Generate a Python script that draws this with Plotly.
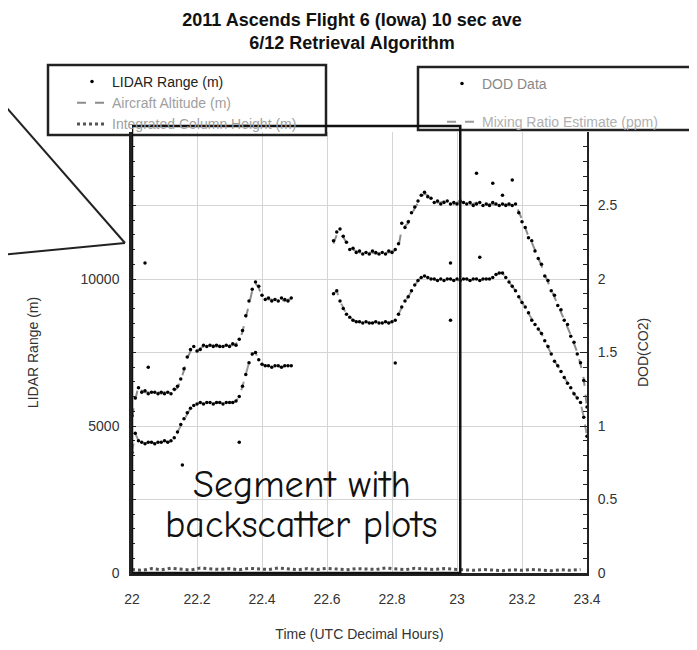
import plotly.graph_objects as go

# ---- data ----
# time stamps (UTC decimal hours), None marks the gap in the record
time_hr = [
    22.00, 22.01, 22.02, 22.03, 22.04, 22.05, 22.06, 22.07, 22.08, 22.09,
    22.10, 22.11, 22.12, 22.13, 22.14, 22.15, 22.16, 22.17, 22.18, 22.19,
    22.20, 22.21, 22.22, 22.23, 22.24, 22.25, 22.26, 22.27, 22.28, 22.29,
    22.30, 22.31, 22.32, 22.33, 22.34, 22.35, 22.36, 22.37, 22.38, 22.39,
    22.40, 22.41, 22.42, 22.43, 22.44, 22.45, 22.46, 22.47, 22.48, 22.49,
    None,
    22.62, 22.63, 22.64, 22.65, 22.66, 22.67, 22.68, 22.69, 22.70, 22.71,
    22.72, 22.73, 22.74, 22.75, 22.76, 22.77, 22.78, 22.79, 22.80, 22.81,
    22.82, 22.83, 22.84, 22.85, 22.86, 22.87, 22.88, 22.89, 22.90, 22.91,
    22.92, 22.93, 22.94, 22.95, 22.96, 22.97, 22.98, 22.99, 23.00, 23.01,
    23.02, 23.03, 23.04, 23.05, 23.06, 23.07, 23.08, 23.09, 23.10, 23.11,
    23.12, 23.13, 23.14, 23.15, 23.16, 23.17, 23.18, 23.19, 23.20, 23.21,
    23.22, 23.23, 23.24, 23.25, 23.26, 23.27, 23.28, 23.29, 23.30, 23.31,
    23.32, 23.33, 23.34, 23.35, 23.36, 23.37, 23.38, 23.39, 23.40,
]

# aircraft altitude (m)
altitude_m = [
    5300, 5900, 6350, 6200, 6150, 6150, 6100, 6150, 6150, 6100,
    6150, 6100, 6150, 6200, 6300, 6550, 6900, 7300, 7550, 7650,
    7500, 7650, 7700, 7750, 7700, 7750, 7700, 7750, 7750, 7700,
    7750, 7750, 7800, 7900, 8200, 8700, 9200, 9600, 9850, 9700,
    9400, 9350, 9300, 9300, 9250, 9300, 9300, 9250, 9300, 9300,
    None,
    11200, 11500, 11600, 11400, 11200, 11050, 11000, 10950, 10900, 10900,
    10850, 10900, 10900, 10850, 10900, 10850, 10900, 10900, 10950, 10950,
    11100, 11700, 11800, 11900, 12200, 12400, 12600, 12800, 12900, 12850,
    12700, 12650, 12600, 12600, 12650, 12600, 12600, 12550, 12600, 12600,
    12550, 12600, 12550, 12550, 12600, 12550, 12550, 12500, 12550, 12550,
    12500, 12550, 12500, 12550, 12500, 12550, 12500, 12300, 12000, 11700,
    11450, 11250, 11000, 10750, 10450, 10150, 9900, 9650, 9400, 9150,
    8900, 8650, 8400, 8100, 7800, 7500, 7100, 6600, 5600,
]

# LIDAR range (m), follows the altitude plus a few stray returns
lidar_m = [
    5350, 5950, 6300, 6150, 6200, 6100, 6150, 6150, 6100, 6150,
    6100, 6150, 6100, 6250, 6350, 6600, 6950, 7350, 7600, 7700,
    7550, 7600, 7750, 7700, 7750, 7700, 7750, 7700, 7700, 7750,
    7700, 7800, 7750, 7950, 8250, 8750, 9250, 9650, 9900, 9750,
    9450, 9300, 9350, 9250, 9300, 9250, 9350, 9300, 9250, 9350,
    None,
    11300, 11600, 11700, 11450, 11250, 11000, 11050, 10900, 10950, 10850,
    10900, 10850, 10950, 10900, 10850, 10900, 10850, 10950, 10900, 11000,
    11200, 11900, 11750, 11950, 12250, 12450, 12650, 12850, 12950, 12800,
    12750, 12600, 12650, 12550, 12600, 12650, 12550, 12600, 12550, 12650,
    12600, 12550, 12600, 12500, 12550, 12600, 12500, 12550, 12500, 12600,
    12550, 12500, 12550, 12500, 12550, 12500, 12550, 12250, 11950, 11750,
    11400, 11300, 10950, 10700, 10500, 10100, 9950, 9600, 9450, 9100,
    8950, 8600, 8450, 8050, 7850, 7450, 7150, 6550, 5650,
]
stray_time = [22.04, 22.05, 22.155, 22.33, 22.81, 22.98, 22.98, 23.07, 23.06, 23.11, 23.17, 23.14]
stray_m = [10540, 7000, 3670, 4450, 7140, 8600, 10540, 10740, 13600, 13260, 13370, 12850]

# differential optical depth (right axis)
dod = [
    0.82, 0.95, 0.90, 0.89, 0.88, 0.89, 0.89, 0.88, 0.89, 0.89,
    0.90, 0.89, 0.90, 0.92, 0.96, 1.01, 1.05, 1.09, 1.12, 1.14,
    1.15, 1.16, 1.15, 1.16, 1.16, 1.15, 1.16, 1.16, 1.15, 1.16,
    1.16, 1.16, 1.17, 1.20, 1.27, 1.35, 1.43, 1.49, 1.50, 1.45,
    1.42, 1.41, 1.41, 1.40, 1.41, 1.41, 1.40, 1.41, 1.41, 1.41,
    None,
    1.90, 1.92, 1.85, 1.80, 1.76, 1.74, 1.72, 1.71, 1.71, 1.70,
    1.71, 1.70, 1.70, 1.71, 1.70, 1.70, 1.71, 1.70, 1.71, 1.72,
    1.76, 1.81, 1.85, 1.88, 1.92, 1.96, 1.99, 2.01, 2.02, 2.01,
    2.00, 2.00, 1.99, 2.00, 1.99, 2.00, 2.00, 1.99, 2.00, 1.99,
    2.00, 2.00, 1.99, 2.00, 2.00, 1.99, 2.00, 2.00, 2.00, 2.01,
    2.03, 2.04, 2.04, 2.01, 1.98, 1.95, 1.92, 1.88, 1.84, 1.81,
    1.77, 1.72, 1.69, 1.66, 1.63, 1.58, 1.54, 1.49, 1.44, 1.41,
    1.37, 1.33, 1.29, 1.26, 1.22, 1.19, 1.16, 1.06, 0.93,
]

# integrated column trace hugging the bottom axis
integ_time = [
    22.00, 22.03, 22.06, 22.09, 22.12, 22.15, 22.18, 22.21, 22.24, 22.27,
    22.30, 22.33, 22.36, 22.39, 22.42, 22.45, 22.48, 22.51, 22.54, 22.57,
    22.60, 22.63, 22.66, 22.69, 22.72, 22.75, 22.78, 22.81, 22.84, 22.87,
    22.90, 22.93, 22.96, 22.99, 23.02, 23.05, 23.08, 23.11, 23.14, 23.17,
    23.20, 23.23, 23.26, 23.29, 23.32, 23.35, 23.38,
]
integ_m = [
    120, 90, 150, 110, 160, 130, 100, 170, 140, 120,
    150, 110, 160, 130, 120, 170, 140, 110, 150, 120,
    160, 130, 110, 150, 140, 120, 170, 130, 110, 160,
    140, 120, 150, 130, 110, 90, 120, 100, 80, 110,
    90, 120, 100, 80, 110, 90, 120,
]

x_ticks = [22, 22.2, 22.4, 22.6, 22.8, 23, 23.2, 23.4]
x_labels = ["22", "22.2", "22.4", "22.6", "22.8", "23", "23.2", "23.4"]
y_ticks = [0, 2500, 5000, 7500, 10000, 12500, 15000]
y_labels = ["0", "", "5000", "", "10000", "", ""]
y2_ticks = [0, 0.5, 1, 1.5, 2, 2.5, 3]
y2_labels = ["0", "0.5", "1", "1.5", "2", "2.5", ""]

# the page puts the figure 8px in from the corner; positions below are page pixels
OFF = 8
L, R, T, B = 132 - OFF, 587 - OFF, 132 - OFF, 573 - OFF


def px(x, y):
    return (x - OFF - L) / (R - L), (B - (y - OFF)) / (B - T)


FONT = "Liberation Sans, Arial, sans-serif"
GREY = "#8c8c8c"

fig = go.Figure()
fig.add_trace(go.Scatter(
    x=time_hr, y=altitude_m, mode="lines", name="<span style='color:#a0a0a0'>Aircraft Altitude (m)</span>",
    line=dict(color=GREY, width=2, dash="dash"), legend="legend", legendrank=2,
))
fig.add_trace(go.Scatter(
    x=time_hr, y=lidar_m, mode="markers", name="LIDAR Range (m)",
    marker=dict(color="black", size=3.5), legend="legend", legendrank=1,
))
fig.add_trace(go.Scatter(
    x=stray_time, y=stray_m, mode="markers", showlegend=False,
    marker=dict(color="black", size=3.5),
))
fig.add_trace(go.Scatter(
    x=integ_time, y=integ_m, mode="lines", name="<span style='color:#a0a0a0'>Integrated Column Height (m)</span>",
    line=dict(color="#555", width=3, dash="dot"), legend="legend", legendrank=3,
))
fig.add_trace(go.Scatter(
    x=time_hr, y=dod, mode="lines", yaxis="y2", name="<span style='color:#b0b0b0'>Mixing Ratio Estimate (ppm)</span>",
    line=dict(color="#9a9a9a", width=2, dash="dash"), legend="legend2", legendgroup="b", legendrank=2,
))
fig.add_trace(go.Scatter(
    x=time_hr, y=dod, mode="markers", yaxis="y2", name="<span style='color:#888'>DOD Data</span>",
    marker=dict(color="black", size=3.5), legend="legend2", legendgroup="a", legendrank=1,
))

shapes = []
# legend frames
for (x0, y0, x1, y1) in [(48, 65, 326, 135), (418, 67, 692, 130)]:
    a, b = px(x0, y1)
    c, d = px(x1, y0)
    shapes.append(dict(type="rect", xref="paper", yref="paper", x0=a, y0=b, x1=c, y1=d,
                       line=dict(color="#222", width=2.5)))
# callout wedge
for (x0, y0) in [(0, 100), (0, 255)]:
    a, b = px(x0, y0)
    c, d = px(125, 243)
    shapes.append(dict(type="line", xref="paper", yref="paper", x0=a, y0=b, x1=c, y1=d,
                       line=dict(color="#222", width=2)))
# segment with backscatter plots
shapes.append(dict(type="rect", xref="x", yref="paper", x0=22.0, x1=23.01, y0=0, y1=px(0, 126)[1],
                   line=dict(color="#111", width=2.5)))

seg_font = dict(family="Comic Sans MS, Comic Neue, DejaVu Sans, sans-serif", size=38, color="#111")

fig.update_layout(
    width=697, height=650,
    margin=dict(l=L, r=697 - R, t=T, b=650 - B),
    paper_bgcolor="white", plot_bgcolor="white",
    font=dict(family=FONT, size=14, color="#333"),
    title=dict(
        text="<b>2011 Ascends Flight 6 (Iowa) 10 sec ave<br>6/12 Retrieval Algorithm</b>",
        x=(352 - OFF) / 697, xanchor="center", y=1 - 18 / 650, yanchor="top",
        font=dict(size=18, color="#111"),
    ),
    xaxis=dict(
        range=[22, 23.4], tickvals=x_ticks, ticktext=x_labels,
        showgrid=True, gridcolor="#d4d4d4", zeroline=False,
        showline=True, linecolor="#222", linewidth=2.5, ticklabelstandoff=11,
        title=dict(text="Time (UTC Decimal Hours)", standoff=24, font=dict(size=14)),
    ),
    yaxis=dict(
        range=[0, 15000], tickvals=y_ticks, ticktext=y_labels,
        showgrid=True, gridcolor="#d4d4d4", zeroline=False,
        showline=True, linecolor="#222", linewidth=2.5,
        ticks="inside", ticklen=4, tickcolor="#222", ticklabelstandoff=7,
        minor=dict(dtick=500, ticks="inside", ticklen=3, tickcolor="#222"),
        title=dict(text="LIDAR Range (m)", standoff=39, font=dict(size=14)),
    ),
    yaxis2=dict(
        range=[0, 3], tickvals=y2_ticks, ticktext=y2_labels, overlaying="y", side="right",
        showgrid=False, zeroline=False,
        showline=True, linecolor="#222", linewidth=2,
        ticks="inside", ticklen=7, tickcolor="#222", ticklabelstandoff=6,
        minor=dict(dtick=0.1, ticks="inside", ticklen=4, tickcolor="#222"),
        title=dict(text="DOD(CO2)", standoff=22, font=dict(size=14)),
    ),
    legend=dict(
        x=px(72, 0)[0], y=px(0, 66)[1], xanchor="left", yanchor="top",
        bgcolor="rgba(0,0,0,0)", font=dict(size=14, color="#222"), tracegroupgap=0,
    ),
    legend2=dict(
        x=px(442, 0)[0], y=px(0, 68)[1], xanchor="left", yanchor="top",
        bgcolor="rgba(0,0,0,0)", font=dict(size=14, color="#222"), tracegroupgap=17,
    ),
    shapes=shapes,
    annotations=[
        dict(x=22.523, y=2990, xref="x", yref="y", showarrow=False,
             text="Segment with", font=seg_font),
        dict(x=22.523, y=1630, xref="x", yref="y", showarrow=False,
             text="backscatter plots", font=seg_font),
    ],
)

fig.write_html("out.html")
